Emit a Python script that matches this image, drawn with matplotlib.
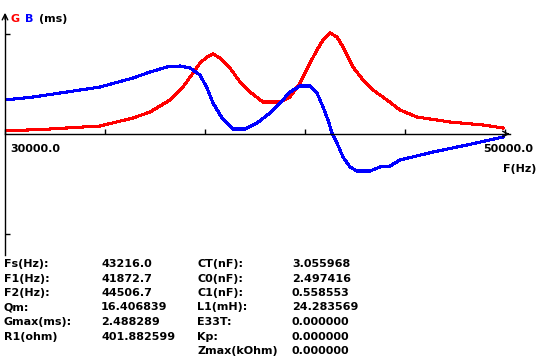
import matplotlib
matplotlib.use("Agg")
import matplotlib.pyplot as plt

# conductance G (red) and susceptance B (blue), frequency in Hz, values in ms
g_freq = [30000, 31800, 33800, 35120, 35800, 36600, 37120, 37520, 37800, 38080,
          38320, 38600, 39000, 39400, 39800, 40320, 41000, 41400, 41800, 42200,
          42480, 42720, 43000, 43280, 43520, 43920, 44320, 44720, 45280, 45800,
          46480, 47800, 49120, 49920]
g_val = [0.075, 0.125, 0.2, 0.4, 0.55, 0.85, 1.175, 1.525, 1.775, 1.925,
         2.0, 1.9, 1.65, 1.3, 1.05, 0.8, 0.8, 0.925, 1.275, 1.775,
         2.1, 2.35, 2.525, 2.425, 2.175, 1.675, 1.35, 1.1, 0.85, 0.6,
         0.425, 0.3, 0.225, 0.15]

b_freq = [30000, 31120, 32480, 33800, 35120, 35800, 36480, 37000, 37400, 37800,
          38080, 38320, 38680, 39120, 39600, 40080, 40600, 41000, 41400, 41800,
          42200, 42480, 42720, 42920, 43080, 43280, 43520, 43800, 44080, 44600,
          45000, 45400, 45800, 47120, 48480, 49920]
b_val = [0.85, 0.925, 1.05, 1.175, 1.4, 1.55, 1.675, 1.7, 1.65, 1.475,
         1.15, 0.775, 0.4, 0.125, 0.125, 0.275, 0.525, 0.775, 1.05, 1.2,
         1.2, 1.025, 0.675, 0.35, 0.025, -0.225, -0.575, -0.825, -0.925, -0.925,
         -0.825, -0.8, -0.65, -0.45, -0.275, -0.075]

x_ticks = [30000, 34000, 38000, 42000, 46000, 50000]
y_ticks = [-2.5, 2.5]

left_labels = ["Fs(Hz):", "F1(Hz):", "F2(Hz):", "Qm:", "Gmax(ms):", "R1(ohm)"]
left_values = ["43216.0", "41872.7", "44506.7", "16.406839", "2.488289", "401.882599"]
right_labels = ["CT(nF):", "C0(nF):", "C1(nF):", "L1(mH):", "E33T:", "Kp:", "Zmax(kOhm)"]
right_values = ["3.055968", "2.497416", "0.558553", "24.283569", "0.000000",
                "0.000000", "0.000000"]

W, H = 542, 363
fig = plt.figure(figsize=(W / 100, H / 100), dpi=100)
fig.patch.set_facecolor("white")
ax = fig.add_axes([5 / W, 1 - 255 / H, 505 / W, 240 / H])
ax.set_facecolor("white")

ax.plot(g_freq, g_val, color="#ff0000", lw=1.5, antialiased=False)
ax.plot(b_freq, b_val, color="#0000ff", lw=1.5, antialiased=False)

ax.set_xlim(30000, 50200)
ax.set_ylim(-3.025, 2.975)
ax.spines["top"].set_visible(False)
ax.spines["right"].set_visible(False)
ax.spines["bottom"].set_position(("data", 0))
for s in ("bottom", "left"):
    ax.spines[s].set_linewidth(1)
ax.set_xticks(x_ticks)
ax.set_yticks(y_ticks)
ax.tick_params(direction="in", length=3.5, width=1, labelbottom=False, labelleft=False)

# arrow heads on the axes
ax.annotate("", xy=(50300, 0), xytext=(50000, 0),
            arrowprops=dict(arrowstyle="->", lw=1, mutation_scale=10), annotation_clip=False)
ax.annotate("", xy=(30000, 3.1), xytext=(30000, 2.8),
            arrowprops=dict(arrowstyle="->", lw=1, mutation_scale=10), annotation_clip=False)

font = dict(family="DejaVu Sans", weight="bold", size=8)

def px_text(x, y, s, color="black", ha="left"):
    fig.text(x / W, 1 - y / H, s, color=color, ha=ha, va="baseline", **font)

px_text(10.5, 22, "G", color="#ff0000")
px_text(25, 22, "B", color="#0000ff")
px_text(39, 22, "(ms)")
px_text(10, 152, "30000.0")
px_text(533, 152, "50000.0", ha="right")
px_text(536, 172, "F(Hz)", ha="right")

for i, (lab, val) in enumerate(zip(left_labels, left_values)):
    y = 267 + i * 14.5
    px_text(4, y, lab)
    px_text(101, y, val)
for i, (lab, val) in enumerate(zip(right_labels, right_values)):
    y = 267 + i * 14.5
    px_text(197, y, lab)
    px_text(292, y, val)

fig.savefig("out.png", dpi=100, facecolor="white")
